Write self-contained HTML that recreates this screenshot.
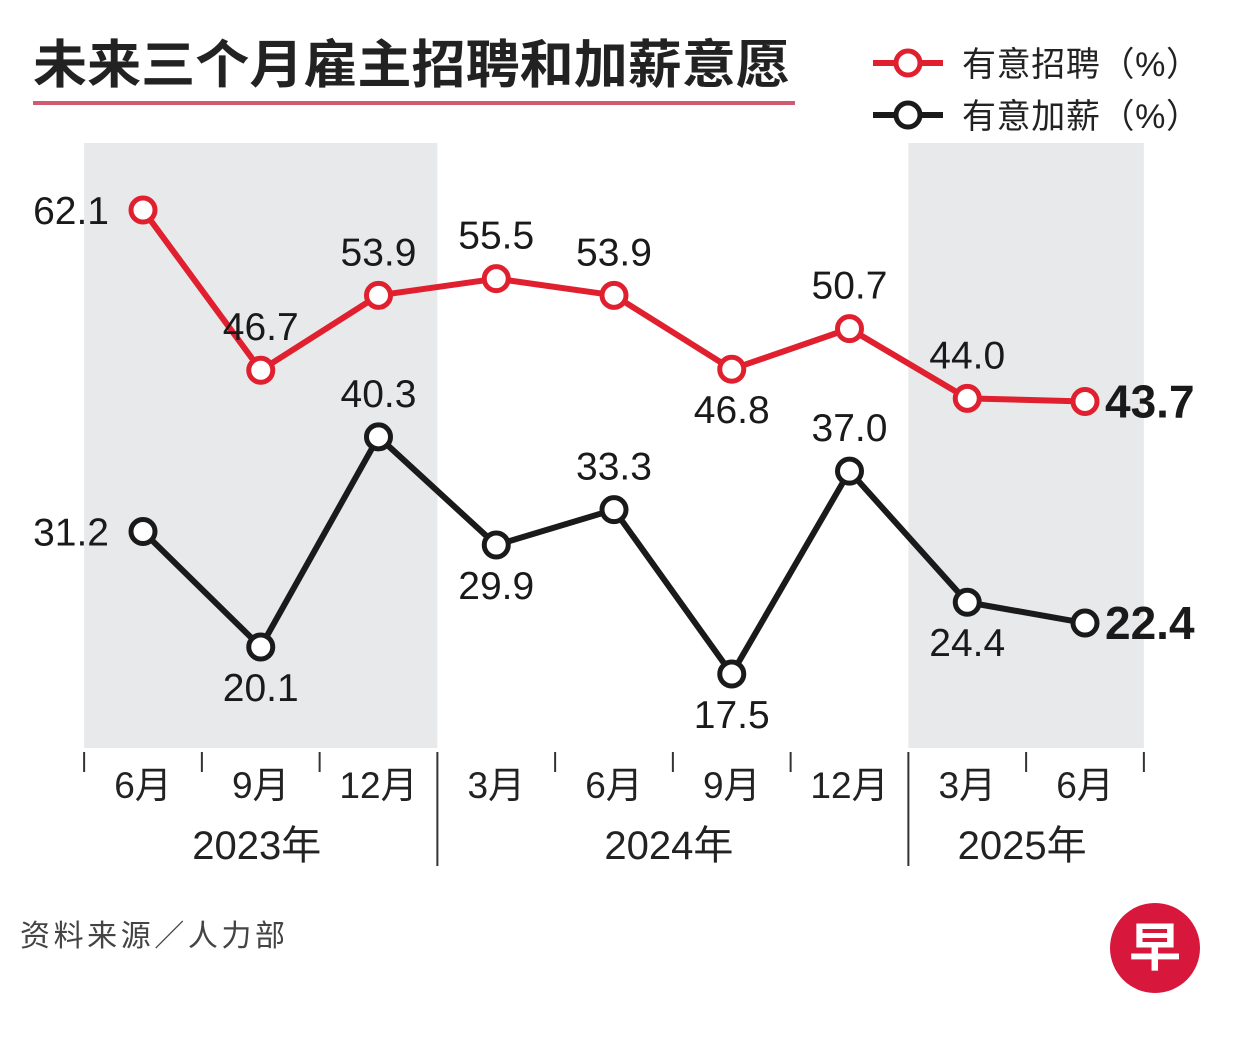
<!DOCTYPE html>
<html><head><meta charset="utf-8">
<style>
body{margin:0;background:#fff;}
svg{display:block;font-family:"Liberation Sans","Noto Sans CJK SC",sans-serif;}
</style></head>
<body>
<svg id="chart" width="1251" height="1049" viewBox="0 0 1251 1049">
<text x="33" y="83" font-size="52" font-weight="bold" fill="#222" textLength="757" lengthAdjust="spacingAndGlyphs" font-family="'Noto Sans CJK SC',sans-serif">未来三个月雇主招聘和加薪意愿</text>
<rect x="33" y="101" width="762" height="4" fill="#d05a70"/>
<g>
<g>
<line x1="873" y1="63" x2="943" y2="63" stroke="#e0202f" stroke-width="6"/>
<circle cx="908" cy="63" r="12" fill="#fff" stroke="#e0202f" stroke-width="5"/>
<text x="962" y="76" font-size="34" fill="#222" textLength="238" lengthAdjust="spacing">有意招聘（%）</text>
</g>
<g>
<line x1="873" y1="115" x2="943" y2="115" stroke="#1a1a1a" stroke-width="6"/>
<circle cx="908" cy="115" r="12" fill="#fff" stroke="#1a1a1a" stroke-width="5"/>
<text x="962" y="128" font-size="34" fill="#222" textLength="238" lengthAdjust="spacing">有意加薪（%）</text>
</g>
</g>
<g id="bands"></g>
<g id="axis"></g>
<g id="series"></g>
<text x="20" y="946" font-size="30" fill="#444" textLength="265" lengthAdjust="spacing">资料来源／人力部</text>
<g>
<circle cx="1155" cy="948" r="45" fill="#d8173c"/>
<text x="1155" y="966" font-size="52" font-weight="bold" fill="#fff" text-anchor="middle">早</text>
</g>
</svg>
<script>
const months = ["6月","9月","12月","3月","6月","9月","12月","3月","6月"];
const years = ["2023年","2024年","2025年"];
const yearSpans = [[0,2],[3,6],[7,8]];
const hiring = [62.1,46.7,53.9,55.5,53.9,46.8,50.7,44.0,43.7];
const wage = [31.2,20.1,40.3,29.9,33.3,17.5,37.0,24.4,22.4];
const hiringLabelPos = ["l","a","a","a","a","b","a","a","r"];
const wageLabelPos = ["l","b","a","b","a","b","a","b","r"];

const NS="http://www.w3.org/2000/svg";
const x0=143, dx=117.75;
const xs=i=>x0+i*dx;
const ys=v=>856.1-10.404*v;
function mk(tag,attrs,parent){const e=document.createElementNS(NS,tag);for(const k in attrs)e.setAttribute(k,attrs[k]);parent.appendChild(e);return e;}

const bands=document.getElementById('bands');
[0,2].forEach(yi=>{
  const [a,b]=yearSpans[yi];
  const r=mk('rect',{x:xs(a)-dx/2,y:143,width:(b-a+1)*dx,height:605,fill:'#e8e9eb'},bands);
  
  
});

const axis=document.getElementById('axis');
for(let i=0;i<=months.length;i++){
  const x=xs(i)-dx/2;
  const sep = yearSpans.some((s,k)=>k>0&&s[0]===i);
  const t=mk('line',{x1:x,y1:752,x2:x,y2:sep?866:772,stroke:'#333','stroke-width':2},axis);
  
  
}
months.forEach((m,i)=>{
  const t=mk('text',{x:xs(i),y:798,'font-size':37,'text-anchor':'middle',fill:'#222'},axis);
  t.textContent=m;
  
  
});
years.forEach((y,k)=>{
  const [a,b]=yearSpans[k];
  const t=mk('text',{x:(xs(a)+xs(b))/2-4,y:859,'font-size':40,'text-anchor':'middle',fill:'#222'},axis);
  t.textContent=y;
  
  
});

const series=document.getElementById('series');
function draw(vals,pos,color,name){
  const g=mk('g',{},series);
  
  
  const p=mk('polyline',{points:vals.map((v,i)=>xs(i)+','+ys(v)).join(' '),fill:'none',stroke:color,'stroke-width':6,'stroke-linejoin':'round'},g);
  
  
  vals.forEach((v,i)=>{
    const c=mk('circle',{cx:xs(i),cy:ys(v),r:12,fill:'#fff',stroke:color,'stroke-width':5},g);
    
    
    const ps=pos[i];let x=xs(i),y=ys(v)+14,anchor='middle',bold=false;
    if(ps==='a')y=ys(v)-30;
    else if(ps==='b')y=ys(v)+54;
    else if(ps==='l'){x=xs(i)-34;anchor='end';}
    else if(ps==='r'){x=xs(i)+20;anchor='start';bold=true;y=ys(v)+16;}
    const t=mk('text',{x:x,y:y,'font-size':bold?46:39,'text-anchor':anchor,fill:'#1a1a1a','font-weight':bold?'bold':'normal'},g);
    t.textContent=v.toFixed(1);
    
    
  });
}
draw(hiring,hiringLabelPos,'#e0202f','hiring');
draw(wage,wageLabelPos,'#1a1a1a','wage');
</script>
</body></html>
